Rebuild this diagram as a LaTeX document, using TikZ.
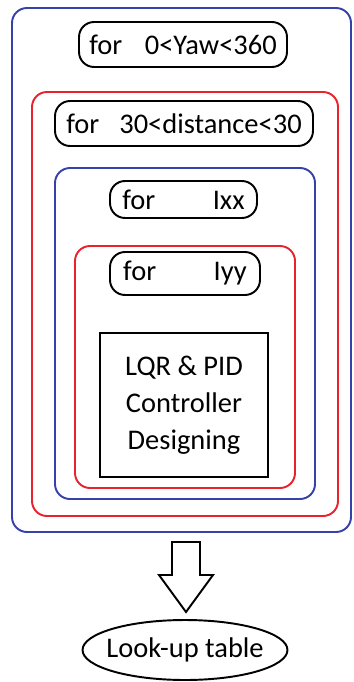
\documentclass[tikz,border=0pt]{standalone}
\usepackage{fontspec}
\setmainfont{Carlito}

\definecolor{frameblue}{RGB}{55,65,170}
\definecolor{framered}{RGB}{232,35,45}

\tikzset{
  loopbox/.style={draw, line width=1.1pt, rounded corners=0.3cm, inner sep=0pt},
  blueframe/.style={draw=frameblue, line width=1.1pt, rounded corners=0.3cm},
  redframe/.style={draw=framered, line width=1.1pt, rounded corners=0.3cm},
}

\begin{document}
\begin{tikzpicture}[x=0.02cm, y=-0.02cm, font=\fontsize{16.2}{21}\selectfont]

\useasboundingbox (0,0) rectangle (353,682);

% nested loop frames
\draw[blueframe] (12,8) rectangle (351,532);
\draw[redframe] (32,92) rectangle (338,516);
\draw[blueframe] (55,168) rectangle (315,499);
\draw[redframe] (75,246) rectangle (295,488);

% loop headers
\node[loopbox, minimum width=4.16cm, minimum height=0.9cm] (yaw) at (183,44.5) {for\hspace{0.45cm}0<Yaw<360};
\node[loopbox, minimum width=5.16cm, minimum height=0.9cm] (dist) at (184,123.5) {for\hspace{0.4cm}30<distance<30};
\node[loopbox, minimum width=2.94cm, minimum height=0.74cm] (ixx) at (183.5,199.5) {for\hspace{1.15cm}Ixx};
\node[loopbox, minimum width=3.0cm, minimum height=0.86cm] (iyy) at (185,273.5) {for\hspace{1.15cm}Iyy};

\node[draw, line width=1.1pt, minimum width=3.36cm, minimum height=2.88cm, align=center] (design) at (184,405) {LQR \& PID\\Controller\\Designing};

% result
\coordinate (arrtop) at (186,542);
\draw[line width=1.1pt, line join=miter] (arrtop) ++(-14,0) -- ++(28,0) -- ++(0,33) -- ++(13,0)
  -- (186,612) -- (159,575) -- (172,575) -- cycle;

\node (table) at (185,650) {Look-up table};
\draw[line width=1.1pt] (table.center) ellipse [x radius=2.05cm, y radius=0.6cm];

\end{tikzpicture}
\end{document}
